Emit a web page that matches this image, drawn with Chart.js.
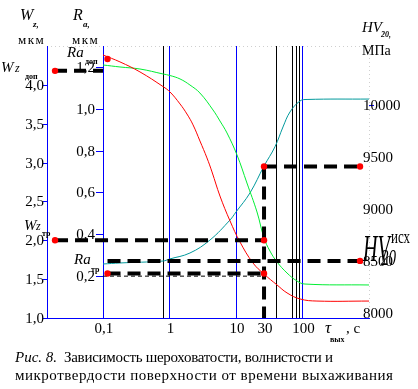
<!DOCTYPE html>
<html>
<head>
<meta charset="utf-8">
<script src="https://cdn.jsdelivr.net/npm/chart.js@4"></script>
<style>
  html, body { margin: 0; padding: 0; background: #fff; }
  #wrap { width: 418px; height: 389px; position: relative; }
</style>
</head>
<body>
<div id="wrap"><canvas id="chart"></canvas></div>
<script>
const SERIF = '"Liberation Serif", "Times New Roman", serif';

// время выхаживания, с (логарифмическая ось)
const raTime = [0.1, 0.18, 0.36, 0.8, 1.02, 1.44, 1.83, 2.26, 2.87, 3.66, 4.36, 5.74, 8.13, 11.5, 18, 26.4, 41.4, 58.5, 91.6, 165, 1000];
const raValues = [1.257, 1.224, 1.176, 1.106, 1.08, 1.023, 0.975, 0.923, 0.846, 0.765, 0.698, 0.583, 0.464, 0.363, 0.263, 0.21, 0.158, 0.12, 0.091, 0.081, 0.081];

const wzTime = [0.1, 0.18, 0.36, 0.8, 1.02, 1.44, 2.03, 2.87, 4.51, 5.74, 7.32, 10.35, 14.6, 20.7, 26.4, 32.4, 41.4, 58.5, 82.6, 109, 1000];
const wzValues = [4.256, 4.23, 4.204, 4.14, 4.12, 4.076, 3.998, 3.895, 3.677, 3.535, 3.381, 3.098, 2.737, 2.364, 2.03, 1.862, 1.721, 1.579, 1.476, 1.437, 1.425];

const hvTime = [0.1, 0.18, 0.8, 1, 2.03, 4.06, 8.13, 10, 16.2, 26.4, 38.6, 50.9, 64.9, 91.6, 117, 1000];
const hvValues = [8470, 8480, 8499, 8518, 8576, 8701, 8894, 8971, 9154, 9414, 9600, 9790, 9935, 10040, 10055, 10059];

// подписи осей
const wzTicks = [1.0, 1.5, 2.0, 2.5, 3.0, 3.5, 4.0];
const raTicks = [0.2, 0.4, 0.6, 0.8, 1.0, 1.2];
const hvTicks = [8000, 8500, 9000, 9500, 10000];
const timeTicks = [0.1, 1, 10, 26.4, 100];
const timeTickLabels = ['0,1', '1', '10', '30', '100'];
const blueLines = [0.1, 1, 10, 100];
const blackLines = [0.8, 40, 70, 80, 90];

// допустимые / требуемые значения
const tauOpt = 26.4;
const wzDop = 4.18, wzTr = 2.0;
const raDop = 1.238, raTr = 0.213, raLine = 0.2;
const hvIsx = 8500, hvOpt = 9410;
const markLeft = 0.019, markRa = 0.117, markRight = 733;

const pts = (xs, ys) => xs.map((v, i) => ({ x: v, y: ys[i] }));

function dashed(xs, ys, axis, width, dash) {
    return {
        data: pts(xs, ys), yAxisID: axis, borderColor: '#000', borderWidth: width,
        borderDash: dash, pointRadius: 0, tension: 0, order: 1
    };
}
function dots(xs, ys, axis) {
    return {
        data: pts(xs, ys), yAxisID: axis, showLine: false, pointRadius: 3.2,
        pointBackgroundColor: '#ff0000', pointBorderWidth: 0, order: 0
    };
}
function curve(xs, ys, axis, color) {
    return {
        data: pts(xs, ys), yAxisID: axis, borderColor: color, borderWidth: 1,
        pointRadius: 0, tension: 0.4, order: 2
    };
}

const fmt = v => v.toFixed(1).replace('.', ',');

function put(ctx, s, x, y, size, style, align) {
    ctx.font = (style || '') + ' ' + size + 'px ' + SERIF;
    ctx.textAlign = align || 'left';
    ctx.fillText(s, x, y);
}
function stretched(ctx, s, x, y, size, style, sy) {
    ctx.save();
    ctx.translate(x, y);
    ctx.scale(1, sy);
    put(ctx, s, 0, 0, size, style);
    ctx.restore();
}
function fitted(ctx, s, x, y, size, style, width) {
    ctx.font = (style || '') + ' ' + size + 'px ' + SERIF;
    ctx.letterSpacing = '0px';
    const w = ctx.measureText(s).width;
    ctx.letterSpacing = ((width - w) / (s.length - 1)) + 'px';
    ctx.textAlign = 'left';
    ctx.fillText(s, x, y);
    ctx.letterSpacing = '0px';
}

const guides = {
    id: 'guides',
    beforeDatasetsDraw(chart) {
        const { ctx, chartArea: a, scales } = chart;
        const xs = scales.x;
        const seg = (x1, y1, x2, y2) => { ctx.beginPath(); ctx.moveTo(x1, y1); ctx.lineTo(x2, y2); ctx.stroke(); };
        ctx.save();
        ctx.lineWidth = 1;
        ctx.strokeStyle = '#cfcfcf';
        ctx.setLineDash([1, 3]);
        seg(a.left, a.top + 0.5, a.right, a.top + 0.5);
        seg(a.right + 0.5, a.top, a.right + 0.5, a.bottom);
        ctx.setLineDash([]);
        ctx.strokeStyle = '#000';
        blackLines.forEach(v => {
            const p = Math.round(xs.getPixelForValue(v)) + 0.5;
            seg(p, a.top, p, a.bottom);
        });
        ctx.strokeStyle = '#0000ff';
        blueLines.forEach(v => {
            const p = Math.round(xs.getPixelForValue(v)) + 0.5;
            seg(p, a.top, p, a.bottom);
        });
        seg(a.left + 0.5, a.top, a.left + 0.5, a.bottom);
        seg(a.left, a.bottom + 0.5, a.right + 1, a.bottom + 0.5);
        // засечки
        wzTicks.forEach(v => {
            const p = Math.round(scales.yWz.getPixelForValue(v)) + 0.5;
            seg(a.left - 4, p, a.left, p);
        });
        const raX = Math.round(xs.getPixelForValue(0.1));
        raTicks.forEach(v => {
            const p = Math.round(scales.yRa.getPixelForValue(v)) + 0.5;
            seg(raX - 7, p, raX, p);
        });
        const hp = Math.round(scales.yHV.getPixelForValue(10000)) + 0.5;
        seg(a.right, hp, a.right + 5, hp);
        ctx.restore();
    },
    afterDraw(chart) {
        const { ctx, scales } = chart;
        const { x, yWz, yRa, yHV } = scales;
        ctx.save();
        ctx.fillStyle = '#000';
        ctx.textBaseline = 'alphabetic';
        wzTicks.forEach(v => put(ctx, fmt(v), 44, yWz.getPixelForValue(v) + 5, 15, '', 'right'));
        raTicks.forEach(v => put(ctx, fmt(v), 95, yRa.getPixelForValue(v) + 5, 15, '', 'right'));
        hvTicks.forEach(v => put(ctx, String(v), 363, yHV.getPixelForValue(v) + 5, 15, '', 'left'));
        timeTicks.forEach((v, i) => put(ctx, timeTickLabels[i], x.getPixelForValue(v) + 1, 333, 15, '', 'center'));

        // заголовки осей
        put(ctx, 'W', 20, 20, 16, 'italic');
        put(ctx, 'z,', 33, 27, 9, 'italic bold');
        ctx.letterSpacing = '1.5px';
        put(ctx, 'мкм', 18, 44, 13, '');
        put(ctx, 'мкм', 72, 44, 13, '');
        ctx.letterSpacing = '0px';
        put(ctx, 'R', 73, 20, 16, 'italic');
        put(ctx, 'a,', 83, 27, 9, 'italic bold');
        put(ctx, 'HV', 362, 32, 15, 'italic');
        put(ctx, '20,', 381, 37, 8, 'italic bold');
        put(ctx, 'МПа', 362, 55, 14, '');

        // обозначения уровней
        put(ctx, 'Ra', 67, 57, 15, 'italic');
        put(ctx, 'доп', 85, 64, 8, 'bold');
        put(ctx, 'W', 1, 72, 15, 'italic');
        put(ctx, 'z', 15, 72, 12, 'italic');
        put(ctx, 'доп', 25, 79, 8, 'bold');
        put(ctx, 'W', 24, 230, 15, 'italic');
        put(ctx, 'z', 36, 230, 12, 'italic');
        put(ctx, 'тр', 42, 236, 8, 'bold');
        put(ctx, 'Ra', 74, 264, 15, 'italic');
        put(ctx, 'тр', 91, 272, 8, 'bold');
        stretched(ctx, 'HV', 363, 261, 20, 'italic', 1.9);
        stretched(ctx, 'исх', 391, 243, 13, '', 1.4);
        stretched(ctx, '20', 381, 265, 15, 'italic', 1.6);

        put(ctx, 'τ', 325, 333, 17, 'italic');
        put(ctx, 'вых', 330, 342, 8, 'bold');
        put(ctx, ', с', 346, 333, 15, '');

        // подпись рисунка
        put(ctx, 'Рис. 8.', 15, 362, 15, 'italic');
        fitted(ctx, 'Зависимость шероховатости, волнистости и', 64, 362, 15, '', 269);
        fitted(ctx, 'микротвердости поверхности от времени выхаживания', 15, 380, 15, '', 378);
        ctx.restore();
    }
};

new Chart(document.getElementById('chart'), {
    type: 'line',
    data: {
        datasets: [
            dots([markLeft, tauOpt], [wzTr, wzTr], 'yWz'),
            dots([markLeft], [wzDop], 'yWz'),
            dots([markRa, markRa, tauOpt], [raDop, raTr, raTr], 'yRa'),
            dots([tauOpt, markRight, markRight], [hvOpt, hvOpt, hvIsx], 'yHV'),
            dashed([markLeft, 0.1], [wzDop, wzDop], 'yWz', 4, [12, 7]),
            dashed([markLeft, tauOpt], [wzTr, wzTr], 'yWz', 4, [13, 7]),
            dashed([markRa, tauOpt], [raTr, raTr], 'yRa', 4, [13, 7]),
            dashed([0.1, tauOpt], [raLine, raLine], 'yRa', 1, [4, 3]),
            dashed([markRa, markRight], [hvIsx, hvIsx], 'yHV', 4, [13, 7]),
            dashed([tauOpt, markRight], [hvOpt, hvOpt], 'yHV', 4, [13, 7]),
            dashed([tauOpt, tauOpt], [hvOpt, 7950], 'yHV', 4, [13, 7]),
            curve(raTime, raValues, 'yRa', '#ff0000'),
            curve(wzTime, wzValues, 'yWz', '#00ee33'),
            curve(hvTime, hvValues, 'yHV', '#00999c')
        ]
    },
    options: {
        responsive: true,
        maintainAspectRatio: false,
        animation: false,
        events: [],
        layout: { padding: { left: 47, top: 46, right: 49, bottom: 71 } },
        plugins: { legend: { display: false }, tooltip: { enabled: false } },
        scales: {
            x: { type: 'logarithmic', min: 0.01439, max: 1000, bounds: 'data', display: false },
            yWz: { type: 'linear', min: 1, max: 4.5, bounds: 'data', display: false },
            yRa: { type: 'linear', min: 0, max: 1.3, bounds: 'data', display: false },
            yHV: { type: 'linear', min: 7950, max: 10570, bounds: 'data', display: false }
        }
    },
    plugins: [guides]
});
</script>
</body>
</html>
